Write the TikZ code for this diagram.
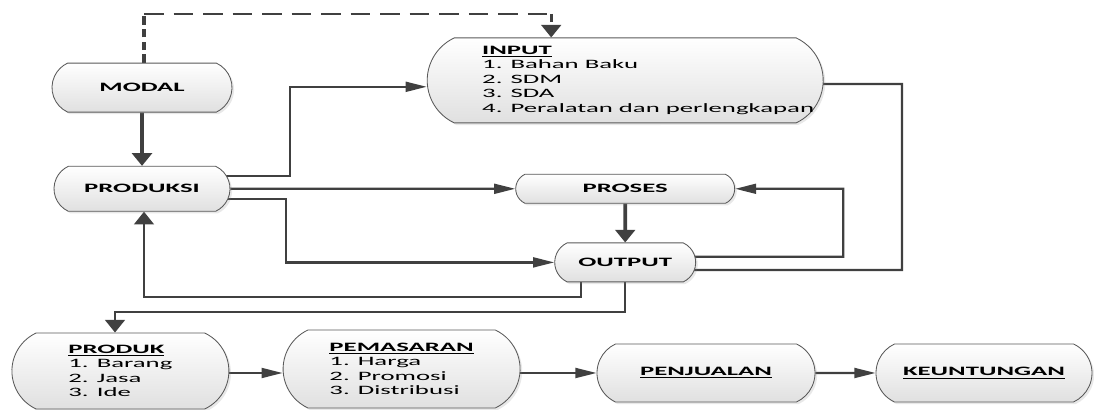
\documentclass[tikz,border=0pt]{standalone}
\usepackage{fontspec}
\setmainfont{Carlito}[FakeStretch=2.09]
\usetikzlibrary{arrows.meta, shapes.misc, shadows, backgrounds}
\definecolor{linegray}{HTML}{404040}
\definecolor{edgegray}{HTML}{595959}
\definecolor{fillgray}{HTML}{E0E0E0}

\begin{document}
\begin{tikzpicture}[
    every node/.style={font=\fontsize{9.1}{10.35}\selectfont},
    box/.style={rounded rectangle, rounded rectangle arc length=130,
        draw=edgegray, line width=0.6pt, top color=white, bottom color=fillgray,
        drop shadow={opacity=0.18, shadow xshift=1.5pt, shadow yshift=-1.5pt},
        inner xsep=0pt, inner ysep=0pt},
    head/.style={box, font=\fontsize{9.1}{10.35}\selectfont\bfseries},
    listbox/.style={box, align=left},
    link/.style={draw=linegray, line width=1.6pt},
    harr/.style={link, -{Triangle[length=15pt, width=7pt]}},
    varr/.style={link, -{Triangle[length=9pt, width=14pt]}},
    dashh/.style={link, dash pattern=on 14pt off 7pt},
    dashv/.style={link, line width=2.4pt, dash pattern=on 6pt off 3pt},
]

\useasboundingbox (0,0) rectangle (27.35,10.25);

% top row: capital and what goes in
\node[head, minimum width=4.5cm, minimum height=1.225cm] (modal) at (3.55, 8.06) {MODAL};
\node[box, minimum width=9.9cm, minimum height=2.125cm] (input) at (15.63, 8.24)
    {\makebox[7.15cm][l]{\begin{tabular}{@{}l@{}}
        \textbf{\underline{INPUT}}\\
        1. Bahan Baku\\
        2. SDM\\
        3. SDA\\
        4. Peralatan dan perlengkapan
    \end{tabular}}};

% middle: the production loop
\node[head, minimum width=4.4cm, minimum height=1.125cm] (produksi) at (3.55, 5.53) {PRODUKSI};
\node[head, minimum width=5.475cm, minimum height=0.725cm] (proses) at (15.63, 5.53) {PROSES};
\node[head, minimum width=3.525cm, minimum height=0.975cm] (output) at (15.63, 3.69) {OUTPUT};

% bottom row: from product to profit
\node[listbox, minimum width=5.425cm, minimum height=1.9cm] (produk) at (3.01, 0.975)
    {\textbf{\underline{PRODUK}}\\1. Barang\\2. Jasa\\3. Ide};
\node[listbox, minimum width=5.925cm, minimum height=1.95cm] (pemasaran) at (10.04, 1.025)
    {\textbf{\underline{PEMASARAN}}\\1. Harga\\2. Promosi\\3. Distribusi};
\node[head, minimum width=5.45cm, minimum height=1.45cm] (penjualan) at (17.65, 0.925) {\underline{PENJUALAN}};
\node[head, minimum width=5.4cm, minimum height=1.45cm] (untung) at (24.6, 0.925) {\underline{KEUNTUNGAN}};

\begin{scope}[on background layer]
% modal also feeds the input (dashed)
\coordinate (d1) at (3.60, 9.90);
\coordinate (d2) at (13.78, 9.90);
\draw[dashv] (modal.north -| d1) -- (d1);
\draw[dashh] (d1) -- (d2);
\draw[dashv, -{Triangle[length=9pt, width=14pt]}] (d2) -- (d2 |- input.north);

% modal to produksi
\draw[varr, line width=2.6pt] (modal) -- (produksi);

% produksi to input, proses and output
\coordinate (k1) at (7.25, 8.08);
\draw[harr] ([yshift=3.2mm]produksi.center) -| (k1) -- (k1 -| input.west);
\draw[harr] (produksi) -- (proses);
\coordinate (k2) at (7.15, 3.69);
\draw[harr] ([yshift=-2.5mm]produksi.center) -| (k2) -- (output);

% proses to output and back
\draw[varr, line width=2.6pt] (proses) -- (output);
\coordinate (k3) at (21.08, 5.53);
\draw[harr] ([yshift=1.4mm]output.center) -| (k3) -- (proses);

% input runs down into output
\coordinate (k4) at (22.55, 8.15);
\coordinate (k5) at (22.55, 3.50);
\draw[link] ([yshift=-0.9mm]input.center) -- (k4) -- (k5) -- (k5 -| output.center);

% output back to produksi
\coordinate (k6) at (14.53, 2.825);
\coordinate (k7) at (3.60, 2.825);
\draw[varr] (k6 |- output.center) -- (k6) -- (k7) -- (produksi.south -| k7);

% output down to produk
\coordinate (k8) at (2.875, 2.45);
\draw[varr] (output) |- (k8) -- (k8 |- produk.north);

% bottom chain
\draw[harr] (produk.center |- penjualan.center) -- (pemasaran.west |- penjualan.center);
\draw[harr] (pemasaran.center |- penjualan.center) -- (penjualan);
\draw[harr] (penjualan) -- (untung);
\end{scope}

\end{tikzpicture}
\end{document}
